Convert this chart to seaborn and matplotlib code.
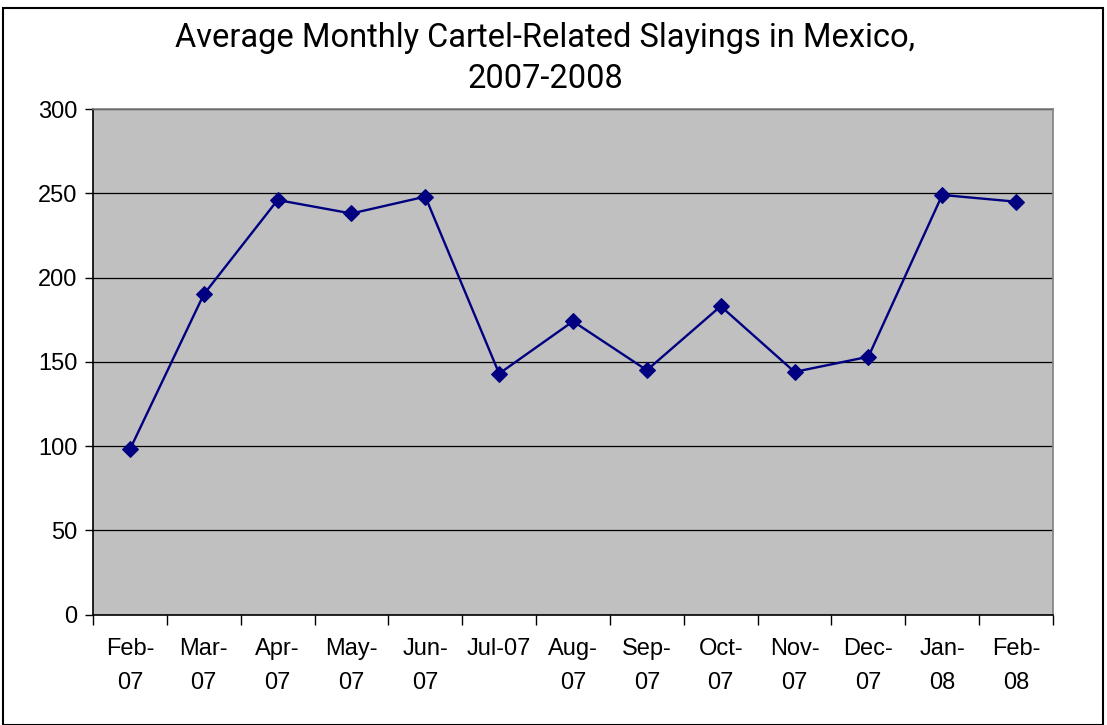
import matplotlib
matplotlib.use("Agg")
import matplotlib.pyplot as plt
import seaborn as sns
import pandas as pd
import numpy as np
from matplotlib.patches import Rectangle

months = ["Feb-\n07", "Mar-\n07", "Apr-\n07", "May-\n07", "Jun-\n07", "Jul-07", "Aug-\n07",
          "Sep-\n07", "Oct-\n07", "Nov-\n07", "Dec-\n07", "Jan-\n08", "Feb-\n08"]
slayings = [98, 190, 246, 238, 248, 143, 174, 145, 183, 144, 153, 249, 245]
y_ticks = [0, 50, 100, 150, 200, 250, 300]
title = "Average Monthly Cartel-Related Slayings in Mexico,\n2007-2008"

sns.set_theme(style="white")
plt.rcParams['font.family'] = ['Liberation Sans', 'DejaVu Sans']
plt.rcParams['text.color'] = 'black'
plt.rcParams['xtick.color'] = 'black'
plt.rcParams['ytick.color'] = 'black'

df = pd.DataFrame({"pos": np.arange(len(months)), "value": slayings})

fig = plt.figure(figsize=(11.07, 7.25), dpi=100)
ax = fig.add_axes([93/1107, 1-614.6/725, (1053-93)/1107, (614.6-109)/725])
ax.set_facecolor("#C0C0C0")

sns.lineplot(data=df, x="pos", y="value", ax=ax, color="#000080", linewidth=1.7,
             marker="D", markersize=8, markeredgecolor="#000080", markerfacecolor="#000080")

ax.set_xlim(-0.5, len(months) - 0.5)
ax.set_ylim(0, 300)
ax.set_yticks(y_ticks)
ax.set_yticklabels([str(v) for v in y_ticks], fontsize=17)
ax.yaxis.grid(True, color="black", linewidth=0.9)
ax.set_axisbelow(True)

ax.set_xticks(np.arange(-0.5, len(months), 1.0))
ax.set_xticklabels([])
ax.set_xticks(np.arange(len(months)), minor=True)
ax.set_xticklabels(months, minor=True, fontsize=17, linespacing=1.7)
ax.tick_params(axis="x", which="minor", length=0, pad=17)
ax.tick_params(axis="x", which="major", length=7, width=1, color="black", direction="out", bottom=True)
ax.tick_params(axis="y", length=6, width=1, color="black", direction="out", left=True, pad=5)
ax.set_xlabel("")
ax.set_ylabel("")

for side in ["top", "right"]:
    ax.spines[side].set_color("#808080")
    ax.spines[side].set_linewidth(1.2)
for side in ["left", "bottom"]:
    ax.spines[side].set_color("black")
    ax.spines[side].set_linewidth(1.2)

fig.text(545/1107, 1-58.5/725, title, ha="center", va="center", fontsize=23.5,
         family=['Roboto', 'DejaVu Sans'], linespacing=1.38, color="black")

fig.patches.append(Rectangle((3/1107, 0.0), 1100/1107, 1-8/725, transform=fig.transFigure,
                             fill=False, edgecolor="black", linewidth=1.5))

fig.savefig("out.png", dpi=100)
